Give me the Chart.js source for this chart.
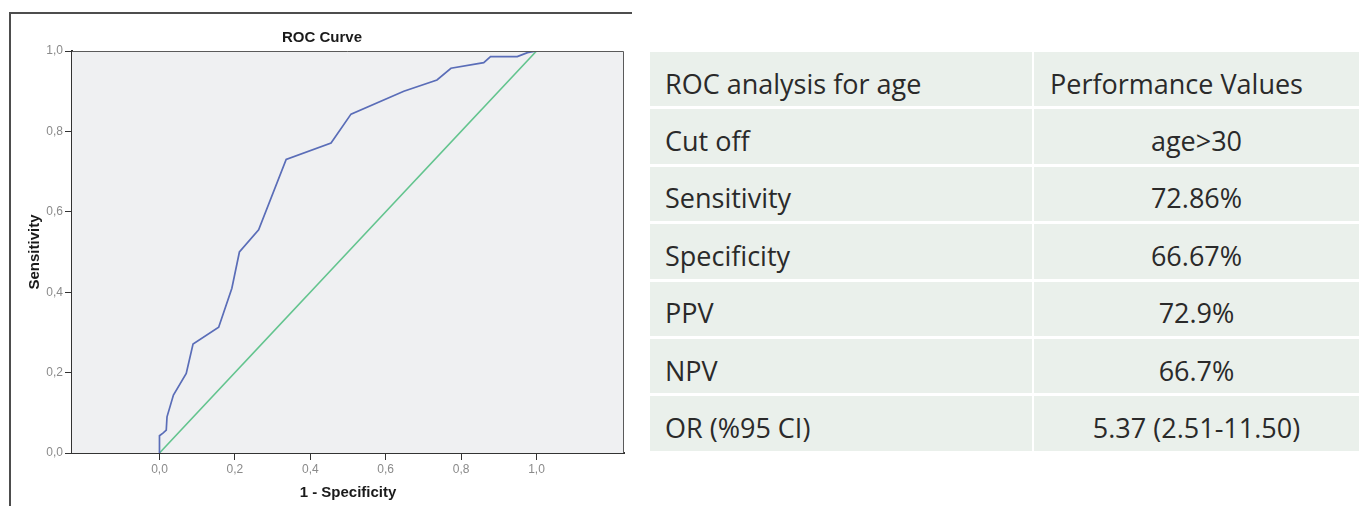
<!DOCTYPE html>
<html>
<head>
<meta charset="utf-8">
<script src="https://cdn.jsdelivr.net/npm/chart.js@4"></script>
<style>
  body { margin: 0; background: #fff; width: 1364px; height: 506px; overflow: hidden; position: relative; }
  #frame { position: absolute; left: 9px; top: 12px; width: 621px; height: 500px; border-top: 2px solid #4d4d4d; border-left: 2px solid #4d4d4d; }
  #chartBox { position: absolute; left: 0; top: 0; width: 640px; height: 506px; }
  #perfTable {
    position: absolute; left: 650px; top: 52px;
    display: grid; grid-template-columns: 382px 325px; grid-auto-rows: 54.4px;
    column-gap: 2px; row-gap: 3px;
    font-family: "Open Sans", sans-serif; font-size: 27px; color: #2a2a2a;
  }
  #perfTable div { background: #eaf0eb; display: flex; align-items: center; padding-top: 8px; box-sizing: border-box; white-space: nowrap; }
  #perfTable .lbl { padding-left: 15px; }
  #perfTable .val { justify-content: center; }
  #perfTable .head { justify-content: flex-start; padding-left: 16px; }
</style>
</head>
<body>
<div id="frame"></div>
<div id="chartBox"><canvas id="rocChart" width="640" height="506"></canvas></div>
<div id="perfTable"></div>
<script>
// ROC curve points (1 - specificity, sensitivity)
const fpr = [0, 0, 0.010, 0.018, 0.020, 0.037, 0.071, 0.089, 0.157, 0.192, 0.212, 0.263, 0.336, 0.455, 0.508, 0.648, 0.736, 0.773, 0.860, 0.878, 0.949, 0.976, 1.0];
const tpr = [0, 0.043, 0.050, 0.057, 0.090, 0.144, 0.198, 0.271, 0.313, 0.410, 0.500, 0.555, 0.730, 0.771, 0.843, 0.900, 0.928, 0.957, 0.971, 0.986, 0.986, 0.996, 1.0];

// reference diagonal
const refX = [0, 1];
const refY = [0, 1];

const xTicks = [0, 0.2, 0.4, 0.6, 0.8, 1.0];
const yTicks = [0, 0.2, 0.4, 0.6, 0.8, 1.0];

// table
const rowLabels = ["ROC analysis for age", "Cut off", "Sensitivity", "Specificity", "PPV", "NPV", "OR (%95 CI)"];
const rowValues = ["Performance Values", "age>30", "72.86%", "66.67%", "72.9%", "66.7%", "5.37 (2.51-11.50)"];

const table = document.getElementById("perfTable");
table.innerHTML = rowLabels.map((l, i) => `
  <div class="lbl">${l}</div>
  <div class="${i === 0 ? "head" : "val"}">${rowValues[i]}</div>
`).join("");

const fmt = v => v.toFixed(1).replace(".", ",");

// plot background + thin top/right border
const plotFrame = {
  id: "plotFrame",
  beforeDatasetsDraw(chart) {
    const { ctx, chartArea: a } = chart;
    ctx.save();
    ctx.fillStyle = "#eff0f2";
    ctx.fillRect(a.left, a.top, a.right - a.left, a.bottom - a.top);
    ctx.restore();
  },
  afterDraw(chart) {
    const { ctx, chartArea: a } = chart;
    ctx.save();
    ctx.strokeStyle = "#5a5a5a";
    ctx.lineWidth = 1;
    ctx.beginPath();
    ctx.moveTo(a.left, a.top + 0.5);
    ctx.lineTo(a.right - 0.5, a.top + 0.5);
    ctx.lineTo(a.right - 0.5, a.bottom);
    ctx.stroke();
    ctx.restore();
  }
};

const axisFont = { family: "'Liberation Sans', Arial, sans-serif", size: 12 };
const titleFont = { family: "'Liberation Sans', Arial, sans-serif", size: 15, weight: "bold" };

new Chart(document.getElementById("rocChart"), {
  type: "scatter",
  data: {
    datasets: [
      {
        data: fpr.map((x, i) => ({ x, y: tpr[i] })),
        showLine: true,
        borderColor: "#5a6db8",
        borderWidth: 1.7,
        pointRadius: 0,
        tension: 0
      },
      {
        data: refX.map((x, i) => ({ x, y: refY[i] })),
        showLine: true,
        borderColor: "#62c48e",
        borderWidth: 1.6,
        pointRadius: 0
      }
    ]
  },
  options: {
    responsive: false,
    animation: false,
    layout: { padding: { left: 20, right: 16, top: 0, bottom: 0 } },
    plugins: {
      legend: { display: false },
      tooltip: { enabled: false },
      title: {
        display: true,
        text: "ROC Curve",
        color: "#1a1a1a",
        font: titleFont,
        padding: { top: 29, bottom: 4 }
      }
    },
    scales: {
      x: {
        type: "linear",
        min: -0.232,
        max: 1.232,
        afterBuildTicks: s => { s.ticks = xTicks.map(v => ({ value: v })); },
        afterFit: s => { s.height = 53; },
        ticks: { callback: v => fmt(v), color: "#8a8a8a", font: axisFont, padding: 2, maxRotation: 0 },
        grid: { drawOnChartArea: false, drawTicks: true, tickLength: 7, tickColor: "#333", color: "#333" },
        border: { display: true, color: "#333", width: 2 },
        title: { display: true, text: "1 - Specificity", color: "#1a1a1a", font: titleFont, padding: { top: 0, bottom: 4 } }
      },
      y: {
        type: "linear",
        min: 0,
        max: 1,
        afterBuildTicks: s => { s.ticks = yTicks.map(v => ({ value: v })); },
        afterFit: s => { s.width = 52; },
        ticks: { callback: v => fmt(v), color: "#8a8a8a", font: axisFont, padding: 2 },
        grid: { drawOnChartArea: false, drawTicks: true, tickLength: 7, tickColor: "#333", color: "#333" },
        border: { display: true, color: "#333", width: 2 },
        title: { display: true, text: "Sensitivity", color: "#1a1a1a", font: titleFont, padding: { top: 6, bottom: 0 } }
      }
    }
  },
  plugins: [plotFrame]
});
</script>
</body>
</html>
